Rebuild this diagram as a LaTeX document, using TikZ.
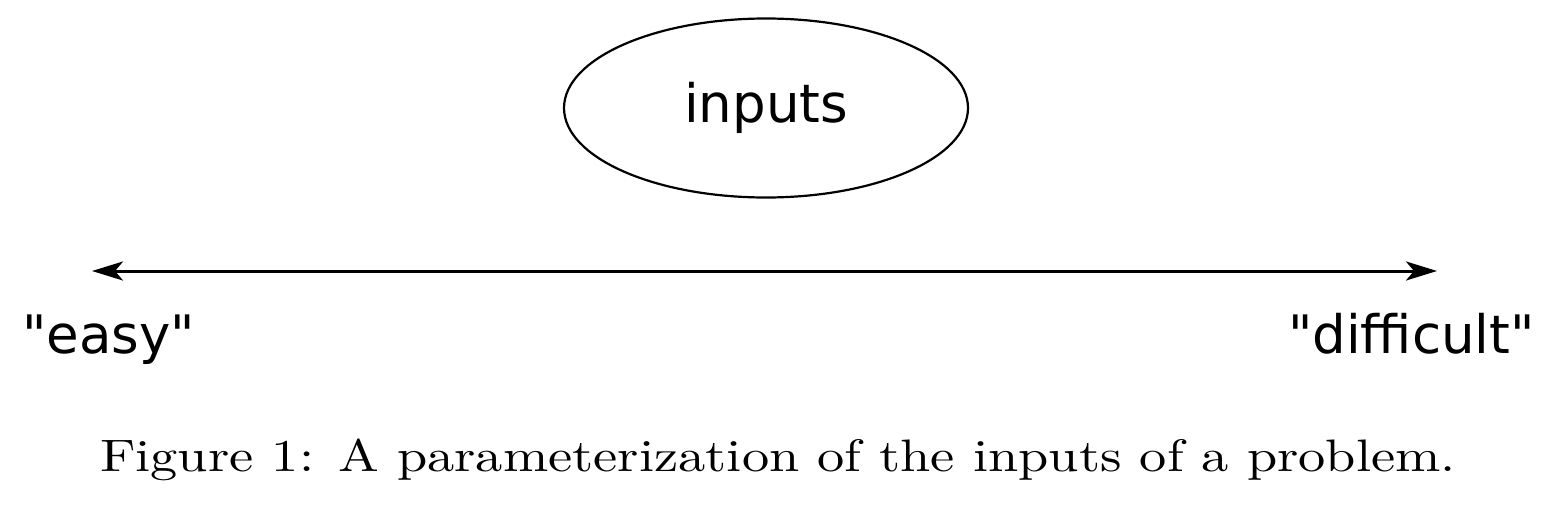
\documentclass[tikz,border=0pt]{standalone}
\usepackage{fontspec}
\newfontfamily\labelfont{DejaVu Sans}
\usetikzlibrary{arrows.meta,shapes.geometric}
\tikzset{
    lbl/.style = {font=\labelfont\fontsize{53}{60}\selectfont, inner sep=0pt},
    axis/.style = {line width=3pt, {Stealth[length=31pt,width=19pt,inset=8pt]}-{Stealth[length=31pt,width=19pt,inset=8pt]}}
}
\begin{document}
\begin{tikzpicture}[x=1pt,y=-1pt]
        \useasboundingbox (0,0) rectangle (1564,506);
        \node[lbl, draw, ellipse, line width=2.2pt, minimum width=404pt, minimum height=179pt] (inputs) at (766,108) {inputs};
        \coordinate (low) at (92,271);
        \coordinate (high) at (1437,271);
        \draw[axis] (low) -- (high);
        \node[lbl, anchor=base west] (easy) at (22,353) {"easy"};
        \node[lbl, anchor=base east] (difficult) at (1535,353) {"difficult"};
        \node[inner sep=0pt, anchor=base] (caption) at (778,471) {\scalebox{5.44}[4.55]{\fontsize{10}{12}\selectfont Figure 1: A parameterization of the inputs of a problem.}};
        \end{tikzpicture}
\end{document}
